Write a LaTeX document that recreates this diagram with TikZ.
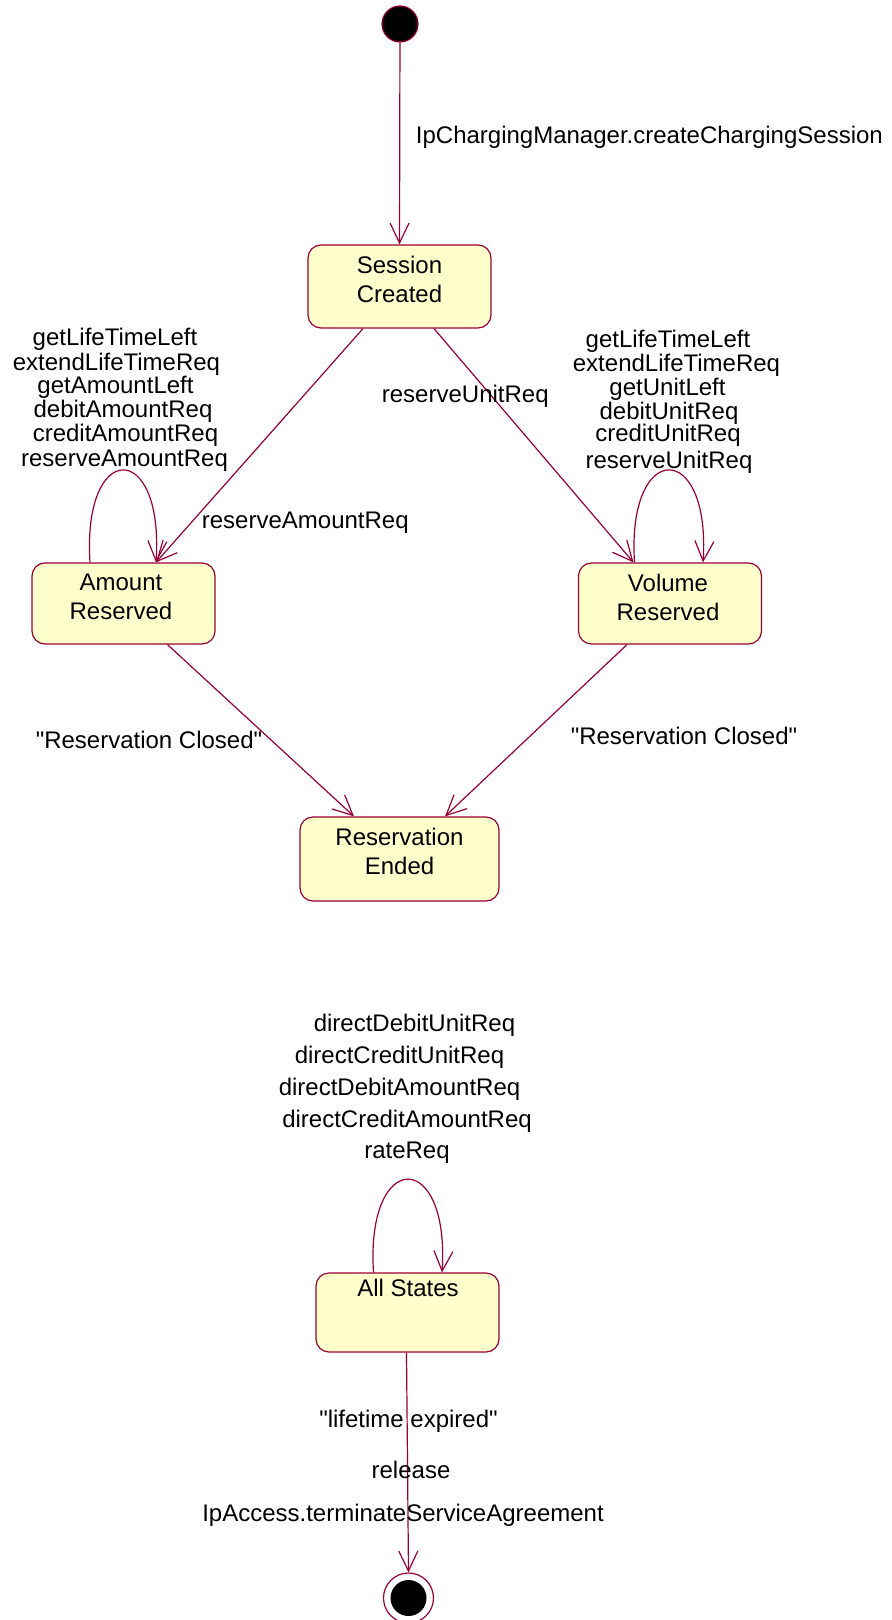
\documentclass[tikz,border=0pt]{standalone}
\usepackage{fontspec}
\setmainfont{Liberation Sans}[Ligatures=TeXOff]
\usetikzlibrary{arrows.meta}
\definecolor{umlline}{RGB}{153,0,51}
\definecolor{umlfill}{RGB}{255,255,204}
\tikzset{
  x=0.5pt, y=-0.5pt,
  state/.style={draw=umlline, fill=umlfill, rounded corners=6.5pt, line width=0.6pt,
    minimum width=91.5pt, inner sep=0pt},
  stext/.style={align=center, font=\fontsize{12}{14.5}\selectfont, inner sep=0pt},
  lbl/.style={font=\fontsize{12}{12}\selectfont, inner sep=0pt, text height=9pt, text depth=3pt, yshift=-1.2pt},
  trans/.style={draw=umlline, line width=0.6pt, -{Straight Barb[length=10pt,width=9.5pt]}},
}
\begin{document}
\begin{tikzpicture}
\useasboundingbox (0,0) rectangle (892,1620);

% start and end states
\node[circle, draw=umlline, fill=black, line width=0.6pt, minimum size=18pt, inner sep=0pt] (start) at (400,24) {};
\node[circle, draw=umlline, line width=0.6pt, minimum size=25pt, inner sep=0pt] (final) at (408.5,1598) {};
\node[circle, fill=black, minimum size=18pt, inner sep=0pt] (finalin) at (408.5,1598) {};

% states
\node[state, minimum height=41.5pt] (sc) at (399.5,286.5) {};
\node[state, minimum height=40.5pt] (ar) at (123.5,603.5) {};
\node[state, minimum height=40.5pt] (vr) at (670,603.5) {};
\node[state, minimum width=99.5pt, minimum height=42pt] (re) at (399.5,859) {};
\node[state, minimum height=39.5pt] (as) at (407.5,1312.5) {};

\node[stext] (sct) at (399.5,279.5) {Session\\Created};
\node[stext] (art) at (121,597) {Amount\\Reserved};
\node[stext] (vrt) at (668,597) {Volume\\Reserved};
\node[stext] (ret) at (399.5,851.5) {Reservation\\Ended};
\node[lbl] (ast) at (408,1288) {All States};

% transitions
\draw[trans] (start) -- (sc.north);
\draw[trans] ([xshift=-18.25pt]sc.south) -- ([xshift=16.25pt]ar.north);
\draw[trans] ([xshift=17.25pt]sc.south) -- ([xshift=-18.25pt]vr.north);
\draw[trans] ([xshift=22pt]ar.south) -- ([xshift=-22.75pt]re.north);
\draw[trans] ([xshift=-21.5pt]vr.south) -- ([xshift=22.75pt]re.north);
\draw[trans] ([xshift=-0.5pt]as.south) -- (final.north);

% self loops
\draw[trans] ([xshift=-16.75pt]ar.north) .. controls +(-4pt,61.5pt) and +(4pt,61.5pt) .. ([xshift=16.25pt]ar.north);
\draw[trans] ([xshift=-17.75pt]vr.north) .. controls +(-4pt,61.5pt) and +(4pt,61.5pt) .. ([xshift=16.5pt]vr.north);
\draw[trans] ([xshift=-17pt]as.north) .. controls +(-4pt,62pt) and +(4pt,62pt) .. ([xshift=17.25pt]as.north);

% labels
\node[lbl, anchor=west] (l1) at (415.5,135.5) {IpChargingManager.createChargingSession};
\node[lbl, anchor=west] (l2) at (381.5,394) {reserveUnitReq};
\node[lbl, anchor=west] (l3) at (201.5,520) {reserveAmountReq};

\node[lbl] (a1) at (115,337) {getLifeTimeLeft};
\node[lbl] (a2) at (116.5,362) {extendLifeTimeReq};
\node[lbl] (a3) at (115.5,385.5) {getAmountLeft};
\node[lbl] (a4) at (123,409) {debitAmountReq};
\node[lbl] (a5) at (125.5,433) {creditAmountReq};
\node[lbl] (a6) at (124.5,458) {reserveAmountReq};

\node[lbl] (v1) at (668,339) {getLifeTimeLeft};
\node[lbl] (v2) at (676.5,363) {extendLifeTimeReq};
\node[lbl] (v3) at (667.5,387.5) {getUnitLeft};
\node[lbl] (v4) at (669,411.5) {debitUnitReq};
\node[lbl] (v5) at (668,433) {creditUnitReq};
\node[lbl] (v6) at (669,460) {reserveUnitReq};

\node[lbl] (c1) at (149,740) {"Reservation Closed"};
\node[lbl] (c2) at (684,736) {"Reservation Closed"};

\node[lbl] (d1) at (414.5,1023) {directDebitUnitReq};
\node[lbl] (d2) at (399.5,1055) {directCreditUnitReq};
\node[lbl] (d3) at (399.5,1087) {directDebitAmountReq};
\node[lbl] (d4) at (407,1119) {directCreditAmountReq};
\node[lbl] (d5) at (407,1150) {rateReq};

\node[lbl] (e1) at (408.5,1419) {"lifetime expired"};
\node[lbl] (e2) at (411,1470) {release};
\node[lbl] (e3) at (403,1513) {IpAccess.terminateServiceAgreement};
\end{tikzpicture}
\end{document}
